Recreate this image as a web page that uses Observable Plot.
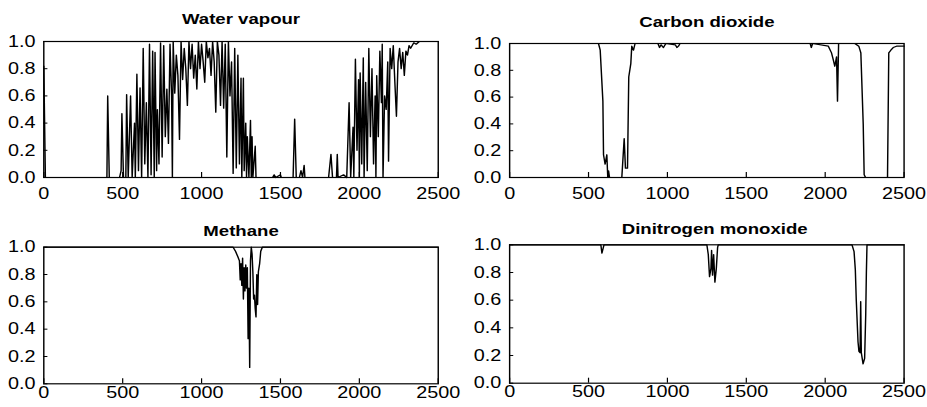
<!DOCTYPE html>
<html><head><meta charset="utf-8">
<script src="https://cdn.jsdelivr.net/npm/d3@7"></script>
<script src="https://cdn.jsdelivr.net/npm/@observablehq/plot@0.6"></script>
<style>
html,body{margin:0;padding:0;background:#fff;}
#stage{position:relative;width:772.5px;height:407px;transform:scaleX(1.2);transform-origin:0 0;}
.panel{position:absolute;}
</style></head><body><div id="stage"></div>
<script>
const xTicks = [0, 500, 1000, 1500, 2000, 2500];
const yTicks = [0, 0.2, 0.4, 0.6, 0.8, 1.0];
const titles = ["Water vapour", "Carbon dioxide", "Methane", "Dinitrogen monoxide"];

const waterVapour = [
 [0,0.82],[10,0],[400,0],[405,0.60],[415,0],[480,0],[490,0.05],[495,0.47],[505,0],[520,0],[525,0.61],[535,0],
 [550,0.60],[560,0],[575,0.40],[580,0],[590,0.76],[600,0.05],[610,0.66],[620,0],[630,0.95],[640,0.10],[650,0.55],
 [660,0],[670,0.98],[680,0.02],[690,0.93],[700,0],[705,0.92],[715,0.05],[720,0.50],[730,0.10],[740,0.99],[750,0.15],
 [760,0.97],[770,0.30],[780,0.65],[790,0.25],[800,0.98],[810,0.60],[815,0],[820,1.0],[830,0.62],[840,0.90],[850,0.75],
 [860,0.28],[870,1.0],[880,0.72],[890,0.95],[900,0.80],[910,0.53],[920,1.0],[930,0.80],[940,0.98],[950,0.73],[960,0.90],
 [970,0.65],[980,1.0],[990,0.80],[1000,0.98],[1010,0.85],[1020,0.70],[1030,1.0],[1040,0.88],[1050,0.95],[1060,0.75],
 [1070,1.0],[1080,0.85],[1090,0.48],[1100,1.0],[1110,0.90],[1120,0.53],[1130,1.0],[1140,0.51],[1150,0.98],[1160,0.15],
 [1170,1.0],[1180,0.60],[1190,0.85],[1200,0.03],[1210,0.95],[1220,0.07],[1230,0.90],[1240,0.10],[1250,0.73],[1255,0],
 [1265,0.73],[1270,0.05],[1280,0.40],[1285,0],[1290,0.30],[1300,0],[1310,0.42],[1315,0],[1320,0.30],[1325,0],[1340,0.23],
 [1345,0],[1450,0],[1460,0.02],[1470,0],[1500,0.02],[1505,0],[1580,0],[1590,0.43],[1600,0],[1620,0],[1630,0.05],[1640,0],
 [1650,0.09],[1655,0],[1805,0],[1820,0.17],[1830,0],[1855,0],[1860,0.17],[1865,0],[1900,0.02],[1920,0],[1935,0.55],
 [1945,0],[1960,0.37],[1965,0],[1975,0.87],[1985,0.20],[1995,0.72],[2000,0],[2005,0.77],[2015,0.10],[2025,0.88],[2030,0],
 [2040,0.70],[2050,0.05],[2060,0.95],[2070,0.30],[2080,0.80],[2090,0.10],[2100,0.60],[2105,0],[2110,0.75],[2120,0.30],
 [2130,0.93],[2140,0.55],[2145,0.98],[2150,0],[2160,0.60],[2170,0.50],[2180,0.85],[2185,0.12],[2195,0.95],[2205,0.80],
 [2215,0.97],[2225,0.70],[2235,0.45],[2245,0.85],[2255,0.95],[2265,0.80],[2275,0.92],[2285,0.75],[2295,0.93],[2305,0.90],
 [2315,0.97],[2325,0.95],[2345,0.99],[2360,0.98],[2380,1.0],[2500,1.0]
];

const carbonDioxide = [
 [0,1.0],[563,1.0],[574,0.95],[591,0.57],[595,0.17],[605,0.10],[616,0.17],[622,0],[627,0.05],[633,0],[711,0],
 [726,0.29],[734,0.07],[747,0.07],[755,0.75],[768,0.85],[774,0.98],[785,0.95],[795,1.0],[940,1.0],[950,0.97],[960,0.99],
 [975,0.97],[990,1.0],[1050,0.99],[1060,0.97],[1070,0.98],[1080,1.0],[1905,1.0],[1912,0.97],[1920,1.0],[2020,0.98],
 [2040,0.93],[2051,0.88],[2061,0.83],[2072,0.90],[2078,0.57],[2085,1.0],[2188,1.0],[2213,0.98],[2226,0.93],[2241,0.40],
 [2247,0.02],[2256,0],[2395,0],[2403,0.93],[2416,0.95],[2431,0.97],[2452,0.98],[2500,0.98]
];

const methane = [
 [0,1.0],[1200,1.0],[1215,0.97],[1230,0.93],[1240,0.90],[1245,0.76],[1250,0.88],[1255,0.72],[1260,0.92],[1265,0.62],
 [1270,0.85],[1275,0.68],[1280,0.87],[1285,0.70],[1290,0.85],[1295,0.33],[1300,0.70],[1305,0.12],[1310,0.90],[1315,1.0],
 [1320,0.95],[1325,0.82],[1330,0.62],[1335,0.65],[1340,0.55],[1345,0.49],[1350,0.80],[1355,0.58],[1360,0.82],[1368,0.88],
 [1375,0.97],[1385,1.0],[2500,1.0]
];

const dinitrogenMonoxide = [
 [0,1.0],[578,1.0],[585,0.94],[598,1.0],[1250,1.0],[1259,0.93],[1267,0.77],[1276,0.83],[1280,0.96],[1286,0.78],
 [1293,0.93],[1301,0.73],[1310,0.83],[1318,0.98],[1322,1.0],[2170,1.0],[2183,0.95],[2191,0.82],[2197,0.60],[2208,0.30],
 [2214,0.23],[2221,0.22],[2225,0.59],[2229,0.22],[2240,0.14],[2250,0.18],[2257,0.50],[2261,0.80],[2265,1.0],[2500,1.0]
];

const series = [waterVapour, carbonDioxide, methane, dinitrogenMonoxide];

const layout = [
 {left: 0,   top: 0,   width: 386,   height: 200, ml: 36,   mr: 21.3, mt: 41,   mb: 23,   dy: -17.5, dx: 0,   pad: 10},
 {left: 386, top: 0,   width: 386.5, height: 200, ml: 38.2, mr: 19.6, mt: 43,   mb: 23,   dy: -16.5, dx: 0,   pad: 10},
 {left: 0,   top: 200, width: 386,   height: 207, ml: 36,   mr: 21.3, mt: 46.7, mb: 23.7, dy: -11,   dx: 0,   pad: 2},
 {left: 386, top: 200, width: 386.5, height: 207, ml: 38.2, mr: 19.6, mt: 44.3, mb: 24.3, dy: -11,   dx: 6.5, pad: 2}
];

const stage = document.getElementById("stage");
layout.forEach((L, i) => {
  const iw = L.width - L.ml - L.mr;
  const ih = L.height - L.mt - L.mb;
  const chart = Plot.plot({
    width: L.width, height: L.height,
    marginLeft: L.ml, marginRight: L.mr, marginTop: L.mt, marginBottom: L.mb,
    style: {fontFamily: "'Liberation Sans', Arial, sans-serif", fontSize: "16.5px", color: "#000", background: "transparent", overflow: "visible"},
    x: {domain: [0, 2500], ticks: xTicks, tickSize: 0, tickPadding: L.pad, tickFormat: d => String(d)},
    y: {domain: [0, 1], ticks: yTicks, tickSize: 0, tickPadding: 7, tickFormat: d => d.toFixed(1)},
    marks: [
      Plot.line(series[i], {x: d => d[0], y: d => d[1], stroke: "#000", strokeWidth: 1.2}),
      Plot.tickX(xTicks, {x: d => d, stroke: "#000", insetTop: ih - 5}),
      Plot.tickY(yTicks, {y: d => d, stroke: "#000", insetRight: iw - 3.5}),
      Plot.frame({stroke: "#000", strokeWidth: 1.2}),
      Plot.text([titles[i]], {text: d => d, frameAnchor: "top", lineAnchor: "bottom", dy: L.dy, dx: L.dx, fontWeight: "bold", fontSize: 15.5, fill: "#000"})
    ]
  });
  const div = document.createElement("div");
  div.className = "panel";
  div.style.left = L.left + "px";
  div.style.top = L.top + "px";
  div.appendChild(chart);
  stage.appendChild(div);
});
</script>
</body></html>
